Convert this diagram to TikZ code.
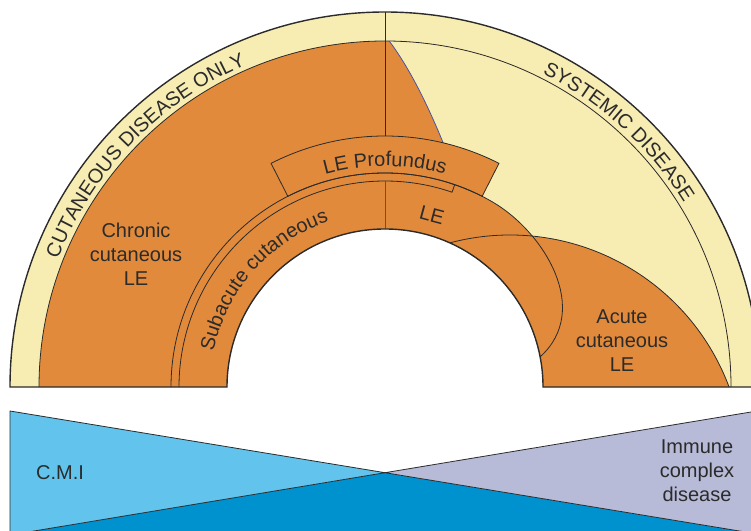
\documentclass[tikz,border=0pt]{standalone}
\usepackage{fontspec}
\setmainfont{Liberation Sans}
\usetikzlibrary{calc, decorations.text}
\definecolor{cream}{HTML}{F7EDB3}
\definecolor{skin}{HTML}{E28A3B}
\definecolor{cmiblue}{HTML}{62C4EC}
\definecolor{deepblue}{HTML}{0092CE}
\definecolor{lilac}{HTML}{B7BBD8}
\definecolor{ink}{HTML}{2B2B2B}
\definecolor{vein}{HTML}{4A4FA0}
\newcommand{\curvefont}{\fontsize{20}{24}\selectfont\color{ink}}

\begin{document}
\begin{tikzpicture}[
    x=1pt, y=1pt,
    lbl/.style={align=center, font=\fontsize{20}{24}\selectfont, text=ink, inner sep=0pt},
    seam/.style={draw=ink, line width=0.8pt},
    rim/.style={draw=ink, line width=1.4pt},
    veinline/.style={draw=vein, line width=0.8pt},
    arctext/.style={decorate, decoration={text along path, text align=center, text={#1}}}
]
  \clip (0,0) rectangle (751,530);
  \coordinate (C) at (385,143);

  % half ring
  \fill[cream] ([shift={(C)}]0:375) arc[start angle=0, end angle=180, radius=375]
    -- ([shift={(C)}]180:158) arc[start angle=180, end angle=0, radius=158] -- cycle;
  \fill[skin] ([shift={(C)}]0:346) arc[start angle=0, end angle=180, radius=346]
    -- ([shift={(C)}]180:158) arc[start angle=180, end angle=0, radius=158] -- cycle;

  \coordinate (vt) at ([shift={(C)}]89.3:346);
  \coordinate (vb) at ([shift={(C)}]76.6:251);
  \coordinate (sub) at ([shift={(C)}]60:214);
  \coordinate (subend) at ([shift={(C)}]11:158);
  \coordinate (acs) at ([shift={(C)}]65.8:158);

  % systemic side
  \fill[cream] (vt) .. controls (408,464) and (426,429) .. (vb)
    arc[start angle=76.6, end angle=63, radius=251]
    -- ([shift={(C)}]63:214) arc[start angle=63, end angle=60, radius=214]
    .. controls +(-30:60) and +(42:70) .. (subend)
    arc[start angle=11, end angle=0, radius=158]
    -- ([shift={(C)}]0:346) arc[start angle=0, end angle=89.3, radius=346] -- cycle;
  \fill[skin] (acs) arc[start angle=104.9, end angle=20.5, radius=234]
    -- ([shift={(C)}]0:158) arc[start angle=0, end angle=65.8, radius=158] -- cycle;

  \draw[seam] ([shift={(C)}]0:346) arc[start angle=0, end angle=180, radius=346];
  \draw[seam] ([shift={(C)}]90:375) -- ([shift={(C)}]90:251);
  \draw[veinline] (vt) .. controls (408,464) and (426,429) .. (vb);

  \draw[seam, fill=skin] ([shift={(C)}]63:214) arc[start angle=63, end angle=117, radius=214]
    -- ([shift={(C)}]117:251) arc[start angle=117, end angle=63, radius=251] -- cycle;

  \draw[seam] ([shift={(C)}]180:214) arc[start angle=180, end angle=60, radius=214]
    .. controls +(-30:60) and +(42:70) .. (subend);
  \draw[seam] ([shift={(C)}]180:206) arc[start angle=180, end angle=71, radius=206]
    -- ([shift={(C)}]71:214);
  \draw[veinline] ([shift={(C)}]90:206) -- ([shift={(C)}]90:158);
  \draw[seam] (acs) arc[start angle=104.9, end angle=20.5, radius=234];

  \draw[rim] ([shift={(C)}]0:375) arc[start angle=0, end angle=180, radius=375]
    -- ([shift={(C)}]180:158) arc[start angle=180, end angle=0, radius=158] -- cycle;

  % curved labels
  \path[arctext={|\curvefont|CUTANEOUS DISEASE ONLY}]
    ([shift={(C)}]170:351) arc[start angle=170, end angle=102, radius=351];
  \path[arctext={|\curvefont|SYSTEMIC DISEASE}]
    ([shift={(C)}]80:351) arc[start angle=80, end angle=15, radius=351];
  \path[arctext={|\curvefont|Subacute cutaneous}]
    ([shift={(C)}]170:175) arc[start angle=170, end angle=107, radius=175];
  \path[arctext={|\curvefont|LE Profundus}]
    ([shift={(C)}]120:221) arc[start angle=120, end angle=60, radius=221];

  \node[lbl] (chronic) at (136,276) {Chronic\\cutaneous\\LE};
  \node[lbl] (acute) at (622,189) {Acute\\cutaneous\\LE};
  \node[lbl, rotate=-15] (le) at (432,315) {LE};

  % lower wedges
  \coordinate (X) at (385,57.3);
  \coordinate (cmiTop) at (10,119);
  \coordinate (cmiBot) at (10,-5);
  \coordinate (imcTop) at (760,119.5);
  \coordinate (imcBot) at (760,-4.4);
  \fill[deepblue] (cmiBot) -- (X) -- (imcBot) -- (760,-30) -- (10,-30) -- cycle;
  \draw[seam, fill=cmiblue] (cmiTop) -- (X) -- (cmiBot) -- cycle;
  \draw[seam, fill=lilac] (imcTop) -- (X) -- (imcBot) -- cycle;

  \node[lbl] (cmi) at (60,57) {C.M.I};
  \node[lbl] (immune) at (697,59) {Immune\\complex\\disease};
\end{tikzpicture}
\end{document}
